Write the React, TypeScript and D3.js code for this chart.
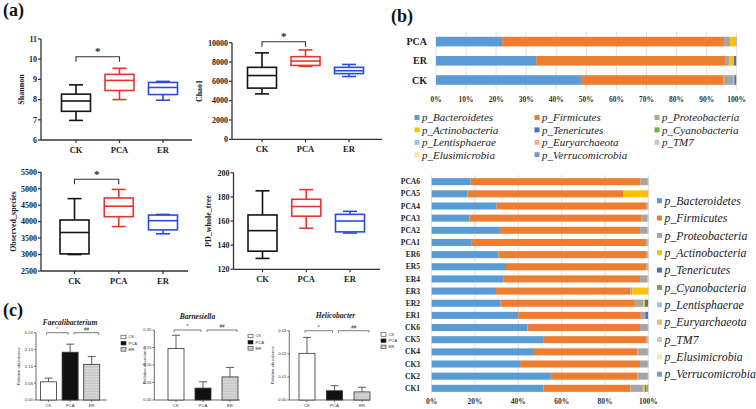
import React from "react";
import * as d3 from "d3";

const SERIF = "'Liberation Serif', 'Times New Roman', serif";
const SANS = "'Liberation Sans', Arial, sans-serif";

// ---------- Panel (a) data ----------
const groups = ["CK", "PCA", "ER"];
const groupColors = ["#141414", "#e8352f", "#2a4be2"];
// [min, q1, median, q3, max]
const shannonStats = [[6.97, 7.42, 7.93, 8.27, 8.73], [8.0, 8.45, 8.95, 9.25, 9.55], [7.97, 8.25, 8.6, 8.85, 8.9]];
const chao1Stats = [[4700, 5300, 6600, 7450, 8950], [7550, 7650, 8100, 8550, 9250], [6500, 6800, 7100, 7450, 7750]];
const observedStats = [[3000, 3020, 3670, 4050, 4700], [3850, 4150, 4470, 4720, 4980], [3630, 3750, 4030, 4200, 4220]];
const pdStats = [[129, 135, 152, 165, 185], [154, 164, 172, 178, 186], [150, 151, 160, 165.5, 168]];
const shannonTicks = [6, 7, 8, 9, 10, 11];
const chao1Ticks = [0, 2000, 4000, 6000, 8000, 10000];
const observedTicks = [2500, 3000, 3500, 4000, 4500, 5000, 5500];
const pdTicks = [120, 140, 160, 180, 200];

// ---------- Panel (c) data ----------
const barTitles = ["Faecalibacterium", "Barnesiella", "Helicobacter"];
const faecMeans = [0.054, 0.142, 0.106];
const faecErrs = [0.011, 0.024, 0.023];
const barnMeans = [0.147, 0.034, 0.066];
const barnErrs = [0.038, 0.018, 0.027];
const helicoMeans = [0.0202, 0.004, 0.0035];
const helicoErrs = [0.0069, 0.0022, 0.002];
const abundTicks = [0, 0.05, 0.1, 0.15, 0.2];
const helicoTicks = [0, 0.01, 0.02, 0.03];

// ---------- Panel (b) data ----------
const phyla = ["p_Bacteroidetes", "p_Firmicutes", "p_Proteobacteria", "p_Actinobacteria", "p_Tenericutes", "p_Cyanobacteria", "p_Lentisphaerae", "p_Euryarchaeota", "p_TM7", "p_Elusimicrobia", "p_Verrucomicrobia"];
const phylaColors = ["#5B9BD5", "#ED7D31", "#A5A5A5", "#FFC000", "#4472C4", "#70AD47", "#9DC3E6", "#F4B183", "#C9C9C9", "#FFE699", "#7F95D1"];
const topGroups = ["PCA", "ER", "CK"];
const topComp = [
  [22.0, 73.8, 2.0, 2.0, 0.1, 0.02, 0.02, 0.02, 0.02, 0.01, 0.01],
  [33.3, 62.8, 1.5, 1.5, 0.7, 0.05, 0.05, 0.03, 0.03, 0.02, 0.02],
  [48.2, 47.4, 3.3, 0.3, 0.6, 0.05, 0.05, 0.03, 0.03, 0.02, 0.02],
];
const percentTicksTop = [0, 0.1, 0.2, 0.3, 0.4, 0.5, 0.6, 0.7, 0.8, 0.9, 1];
const sampleNames = ["PCA6", "PCA5", "PCA4", "PCA3", "PCA2", "PCA1", "ER6", "ER5", "ER4", "ER3", "ER2", "ER1", "CK6", "CK5", "CK4", "CK3", "CK2", "CK1"];
const sampleComp = [
  [18.0, 78.5, 3.3, 0.1, 0.05, 0.01, 0.01, 0.01, 0.01, 0.01, 0.01],
  [16.5, 72.0, 0.3, 11.0, 0.1, 0.02, 0.02, 0.02, 0.02, 0.02, 0.02],
  [30.0, 69.2, 0.6, 0.1, 0.05, 0.01, 0.01, 0.01, 0.01, 0.01, 0.01],
  [17.4, 79.5, 2.8, 0.2, 0.05, 0.01, 0.01, 0.01, 0.01, 0.01, 0.01],
  [31.5, 64.7, 3.5, 0.2, 0.05, 0.01, 0.01, 0.01, 0.01, 0.01, 0.01],
  [18.5, 80.0, 1.2, 0.2, 0.05, 0.01, 0.01, 0.01, 0.01, 0.01, 0.01],
  [30.8, 68.4, 0.6, 0.1, 0.05, 0.01, 0.01, 0.01, 0.01, 0.01, 0.01],
  [34.3, 64.9, 0.6, 0.1, 0.05, 0.01, 0.01, 0.01, 0.01, 0.01, 0.01],
  [33.0, 63.2, 3.5, 0.2, 0.05, 0.01, 0.01, 0.01, 0.01, 0.01, 0.01],
  [29.7, 62.1, 0.8, 7.3, 0.05, 0.01, 0.01, 0.01, 0.01, 0.01, 0.01],
  [31.8, 62.0, 3.9, 0.8, 1.4, 0.02, 0.02, 0.02, 0.02, 0.02, 0.02],
  [40.0, 56.6, 1.9, 0.1, 1.3, 0.02, 0.02, 0.02, 0.02, 0.02, 0.02],
  [44.2, 52.0, 3.6, 0.1, 0.05, 0.01, 0.01, 0.01, 0.01, 0.01, 0.01],
  [51.8, 47.4, 0.2, 0.5, 0.05, 0.01, 0.01, 0.01, 0.01, 0.01, 0.01],
  [47.2, 47.8, 4.8, 0.1, 0.05, 0.01, 0.01, 0.01, 0.01, 0.01, 0.01],
  [40.8, 55.4, 3.6, 0.1, 0.05, 0.01, 0.01, 0.01, 0.01, 0.01, 0.01],
  [55.0, 40.0, 4.8, 0.1, 0.05, 0.01, 0.01, 0.01, 0.01, 0.01, 0.01],
  [51.5, 40.3, 5.9, 0.8, 0.7, 0.05, 0.05, 0.05, 0.05, 0.05, 0.55],
];
const percentTicksBottom = [0, 0.2, 0.4, 0.6, 0.8, 1];

// ---------- helpers ----------
function stackRows(rows: number[][]) {
  const keys = phyla.map((_, i) => String(i));
  const objs = rows.map((r) => {
    const o: any = {};
    r.forEach((v, i) => (o[String(i)] = v));
    return o;
  });
  return d3.stack<any>().keys(keys).offset(d3.stackOffsetExpand)(objs);
}

type BoxCfg = {
  stats: number[][];
  domain: [number, number];
  ticks: number[];
  top: number;
  bottom: number;
  x0: number;
  x1: number;
  cats: [number, number];
  label: string;
  labelX: number;
  sigLevel?: number;
};

function BoxPlot({ c }: { c: BoxCfg }) {
  const y = d3.scaleLinear().domain(c.domain).range([c.bottom, c.top]);
  const x = d3.scalePoint<string>().domain(groups).range(c.cats);
  const bw = 29;
  const cw = 14;
  const axisCol = "#333";
  return (
    <g>
      <line x1={c.x0} x2={c.x0} y1={c.top} y2={c.bottom} stroke={axisCol} strokeWidth={1.3} />
      <line x1={c.x0} x2={c.x1} y1={c.bottom} y2={c.bottom} stroke={axisCol} strokeWidth={1.3} />
      {c.ticks.map((t) => (
        <g key={t}>
          <line x1={c.x0 - 3} x2={c.x0} y1={y(t)} y2={y(t)} stroke={axisCol} strokeWidth={1.2} />
          <text x={c.x0 - 4} y={y(t)} dy="0.35em" textAnchor="end" fontSize={8} fontWeight="bold" fontFamily={SERIF} fill="#222">
            {t}
          </text>
        </g>
      ))}
      {groups.map((g) => (
        <g key={g}>
          <line x1={x(g)!} x2={x(g)!} y1={c.bottom} y2={c.bottom + 3} stroke={axisCol} strokeWidth={1.2} />
          <text x={x(g)!} y={c.bottom + 12.5} textAnchor="middle" fontSize={8.5} fontWeight="bold" fontFamily={SERIF} fill="#222">
            {g}
          </text>
        </g>
      ))}
      <text
        transform={`translate(${c.labelX},${(c.top + c.bottom) / 2}) rotate(-90)`}
        textAnchor="middle"
        fontSize={8}
        fontWeight="bold"
        fontFamily={SERIF}
        fill="#222"
      >
        {c.label}
      </text>
      {c.stats.map((s, i) => {
        const cx = x(groups[i])!;
        const col = groupColors[i];
        const [mn, q1, md, q3, mx] = s;
        return (
          <g key={i} stroke={col} strokeWidth={1.6} fill="none">
            <line x1={cx} x2={cx} y1={y(q3)} y2={y(mx)} />
            <line x1={cx} x2={cx} y1={y(q1)} y2={y(mn)} />
            <line x1={cx - cw / 2} x2={cx + cw / 2} y1={y(mx)} y2={y(mx)} />
            <line x1={cx - cw / 2} x2={cx + cw / 2} y1={y(mn)} y2={y(mn)} />
            <rect x={cx - bw / 2} y={y(q3)} width={bw} height={y(q1) - y(q3)} fill="white" />
            <line x1={cx - bw / 2} x2={cx + bw / 2} y1={y(md)} y2={y(md)} />
          </g>
        );
      })}
      {c.sigLevel !== undefined && (
        <g>
          <path
            d={`M${x("CK")},${y(c.sigLevel) + 5}V${y(c.sigLevel)}H${x("PCA")}V${y(c.sigLevel) + 5}`}
            fill="none"
            stroke="#333"
            strokeWidth={1.1}
          />
          <text x={(x("CK")! + x("PCA")!) / 2} y={y(c.sigLevel) - 1.5} textAnchor="middle" fontSize={11} fontWeight="bold" fontFamily={SERIF} fill="#222">
            *
          </text>
        </g>
      )}
    </g>
  );
}

type BarCfg = {
  title: string;
  titleX: number;
  titleY: number;
  means: number[];
  errs: number[];
  domain: [number, number];
  ticks: number[];
  tickFmt: (v: number) => string;
  top: number;
  bottom: number;
  x0: number;
  x1: number;
  cats: [number, number];
  labelX: number;
  legendX: number;
  legendY: number;
};

function BarPanel({ c }: { c: BarCfg }) {
  const y = d3.scaleLinear().domain(c.domain).range([c.bottom, c.top]);
  const x = d3.scalePoint<string>().domain(groups).range(c.cats);
  const bw = 16;
  const fills = ["white", "#111", "url(#hatch)"];
  const sigY = c.top;
  const xCK = x("CK")!, xP = x("PCA")!, xE = x("ER")!;
  return (
    <g>
      <text x={c.titleX} y={c.titleY} textAnchor="middle" fontSize={7.5} fontWeight="bold" fontStyle="italic" fontFamily={SERIF} fill="#222">
        {c.title}
      </text>
      <line x1={c.x0} x2={c.x0} y1={c.top} y2={c.bottom} stroke="#444" strokeWidth={0.8} />
      <line x1={c.x0} x2={c.x1} y1={c.bottom} y2={c.bottom} stroke="#444" strokeWidth={0.8} />
      {c.ticks.map((t) => (
        <g key={t}>
          <line x1={c.x0 - 2} x2={c.x0} y1={y(t)} y2={y(t)} stroke="#444" strokeWidth={0.7} />
          <text x={c.x0 - 3} y={y(t)} dy="0.35em" textAnchor="end" fontSize={4.2} fontFamily={SANS} fill="#333">
            {c.tickFmt(t)}
          </text>
        </g>
      ))}
      <text transform={`translate(${c.labelX},${(c.top + c.bottom) / 2}) rotate(-90)`} textAnchor="middle" fontSize={4.3} fontFamily={SANS} fill="#333">
        Relative abundance
      </text>
      {c.means.map((m, i) => {
        const cx = x(groups[i])!;
        return (
          <g key={i}>
            <line x1={cx} x2={cx} y1={y(m)} y2={y(m + c.errs[i])} stroke="#333" strokeWidth={0.8} />
            <line x1={cx - 4} x2={cx + 4} y1={y(m + c.errs[i])} y2={y(m + c.errs[i])} stroke="#333" strokeWidth={0.8} />
            <rect x={cx - bw / 2} y={y(m)} width={bw} height={y(0) - y(m)} fill={fills[i]} stroke="#333" strokeWidth={0.8} />
            <line x1={cx} x2={cx} y1={c.bottom} y2={c.bottom + 2} stroke="#444" strokeWidth={0.7} />
            <text x={cx} y={c.bottom + 6.5} textAnchor="middle" fontSize={4.3} fontFamily={SANS} fill="#333">
              {groups[i]}
            </text>
          </g>
        );
      })}
      <path d={`M${xCK - 2},${sigY + 2}V${sigY}H${xP - 2}V${sigY + 2}`} fill="none" stroke="#444" strokeWidth={0.7} />
      <path d={`M${xP + 4},${sigY + 2}V${sigY}H${xE + 7}V${sigY + 2}`} fill="none" stroke="#444" strokeWidth={0.7} />
      <text x={(xCK + xP) / 2 - 2} y={sigY - 2} textAnchor="middle" fontSize={5} fontFamily={SANS} fill="#333">
        *
      </text>
      <text x={(xP + xE) / 2 + 5.5} y={sigY - 2} textAnchor="middle" fontSize={4.5} fontFamily={SANS} fill="#333">
        ##
      </text>
      {groups.map((g, i) => (
        <g key={g}>
          <rect x={c.legendX} y={c.legendY + i * 6.2 - 1.8} width={5} height={3.6} fill={fills[i]} stroke="#333" strokeWidth={0.6} />
          <text x={c.legendX + 7.5} y={c.legendY + i * 6.2} dy="0.35em" fontSize={4.2} fontFamily={SANS} fill="#333">
            {g}
          </text>
        </g>
      ))}
    </g>
  );
}

function TopStack() {
  const x = d3.scaleLinear().domain([0, 1]).range([436, 736.7]);
  const y = d3.scaleBand<string>().domain(topGroups).range([32, 89.6]).paddingInner(0.5).paddingOuter(0.25);
  const series = stackRows(topComp);
  return (
    <g>
      {percentTicksTop.map((t) => (
        <g key={t}>
          <line x1={x(t)} x2={x(t)} y1={32} y2={89.6} stroke="#d9d9d9" strokeWidth={0.8} />
          <text x={x(t)} y={99} dy="0.35em" textAnchor="middle" fontSize={7.5} fontWeight="bold" fontFamily={SERIF} fill="#333">
            {d3.format(".0%")(t)}
          </text>
        </g>
      ))}
      {series.map((s, k) =>
        s.map((d, j) => (
          <rect key={`${k}-${j}`} x={x(d[0])} y={y(topGroups[j])!} width={Math.max(0, x(d[1]) - x(d[0]))} height={y.bandwidth()} fill={phylaColors[k]} />
        ))
      )}
      {topGroups.map((g) => (
        <text key={g} x={427} y={y(g)! + y.bandwidth() / 2} dy="0.35em" textAnchor="end" fontSize={10} fontWeight="bold" fontFamily={SERIF} fill="#222">
          {g}
        </text>
      ))}
      {phyla.map((p, i) => {
        const col = i % 3;
        const row = Math.floor(i / 3);
        const mx = 414.5 + col * 120;
        const my = 117.5 + row * 12.4;
        return (
          <g key={p}>
            <rect x={mx} y={my - 2.5} width={5} height={5} fill={phylaColors[i]} />
            <text x={mx + 7.5} y={my} dy="0.35em" fontSize={11} fontStyle="italic" fontFamily={SERIF} fill="#222">
              {p}
            </text>
          </g>
        );
      })}
    </g>
  );
}

function BottomStack() {
  const x = d3.scaleLinear().domain([0, 1]).range([431.7, 648.3]);
  const y = d3.scaleBand<string>().domain(sampleNames).range([175.6, 394.4]).paddingInner(0.42).paddingOuter(0.21);
  const series = stackRows(sampleComp);
  return (
    <g>
      {percentTicksBottom.map((t) => (
        <g key={t}>
          <line x1={x(t)} x2={x(t)} y1={175} y2={394.4} stroke="#d9d9d9" strokeWidth={0.8} />
          <text x={x(t)} y={401} dy="0.35em" textAnchor="middle" fontSize={7.5} fontWeight="bold" fontFamily={SERIF} fill="#333">
            {d3.format(".0%")(t)}
          </text>
        </g>
      ))}
      {series.map((s, k) =>
        s.map((d, j) => (
          <rect key={`${k}-${j}`} x={x(d[0])} y={y(sampleNames[j])!} width={Math.max(0, x(d[1]) - x(d[0]))} height={y.bandwidth()} fill={phylaColors[k]} />
        ))
      )}
      {sampleNames.map((g) => (
        <text key={g} x={420} y={y(g)! + y.bandwidth() / 2} dy="0.35em" textAnchor="end" fontSize={7.5} fontWeight="bold" fontFamily={SERIF} fill="#222">
          {g}
        </text>
      ))}
      {phyla.map((p, i) => {
        const my = 200.7 + i * 17.35;
        return (
          <g key={p}>
            <rect x={657} y={my - 2.5} width={5} height={5} fill={phylaColors[i]} />
            <text x={664.5} y={my} dy="0.35em" fontSize={11.8} fontStyle="italic" fontFamily={SERIF} fill="#222">
              {p}
            </text>
          </g>
        );
      })}
    </g>
  );
}

const boxCfgs: BoxCfg[] = [
  { stats: shannonStats, domain: [6, 11], ticks: shannonTicks, top: 39, bottom: 140, x0: 41, x1: 192, cats: [76, 163], label: "Shannon", labelX: 24, sigLevel: 10.12 },
  { stats: chao1Stats, domain: [0, 10000], ticks: chao1Ticks, top: 42.7, bottom: 139.3, x0: 232, x1: 382, cats: [262, 349], label: "Chao1", labelX: 202, sigLevel: 10100 },
  { stats: observedStats, domain: [2500, 5500], ticks: observedTicks, top: 172.3, bottom: 271, x0: 41, x1: 188, cats: [74.5, 163], label: "Observed_species", labelX: 16, sigLevel: 5290 },
  { stats: pdStats, domain: [120, 200], ticks: pdTicks, top: 172.7, bottom: 269.3, x0: 233.5, x1: 380, cats: [262.5, 350], label: "PD_whole_tree", labelX: 211 },
];

const fmt2 = d3.format(".2f");
const barCfgs: BarCfg[] = [
  { title: barTitles[0], titleX: 70, titleY: 325, means: faecMeans, errs: faecErrs, domain: [0, 0.2], ticks: abundTicks, tickFmt: fmt2, top: 332.7, bottom: 400, x0: 36, x1: 107, cats: [48.5, 91.7], labelX: 20, legendX: 121, legendY: 337 },
  { title: barTitles[1], titleX: 197.5, titleY: 318.5, means: barnMeans, errs: barnErrs, domain: [0, 0.2], ticks: abundTicks, tickFmt: fmt2, top: 330, bottom: 400, x0: 154.3, x1: 240, cats: [176, 230], labelX: 145.5, legendX: 248, legendY: 336 },
  { title: barTitles[2], titleX: 335.5, titleY: 318, means: helicoMeans, errs: helicoErrs, domain: [0, 0.03], ticks: helicoTicks, tickFmt: fmt2, top: 330.7, bottom: 400, x0: 289.3, x1: 370, cats: [307, 362], labelX: 274, legendX: 381, legendY: 334.5 },
];

export default function App() {
  return (
    <svg width={756} height={409} style={{ position: "absolute", left: 0, top: 0, background: "white" }} fontFamily={SERIF}>
      <defs>
        <pattern id="hatch" width={2} height={1.6} patternUnits="userSpaceOnUse">
          <rect width={2} height={1.6} fill="#c4c4c4" />
          <rect width={2} height={0.5} fill="#e6e6e6" />
        </pattern>
      </defs>
      <rect width={756} height={409} fill="white" />
      <text x={3} y={16} fontSize={18} fontWeight="bold" fontFamily={SERIF} fill="#111">(a)</text>
      <text x={391} y={22} fontSize={18} fontWeight="bold" fontFamily={SERIF} fill="#111">(b)</text>
      <text x={3} y={316} fontSize={18} fontWeight="bold" fontFamily={SERIF} fill="#111">(c)</text>
      {boxCfgs.map((c, i) => (
        <BoxPlot key={i} c={c} />
      ))}
      {barCfgs.map((c, i) => (
        <BarPanel key={i} c={c} />
      ))}
      <TopStack />
      <BottomStack />
    </svg>
  );
}
